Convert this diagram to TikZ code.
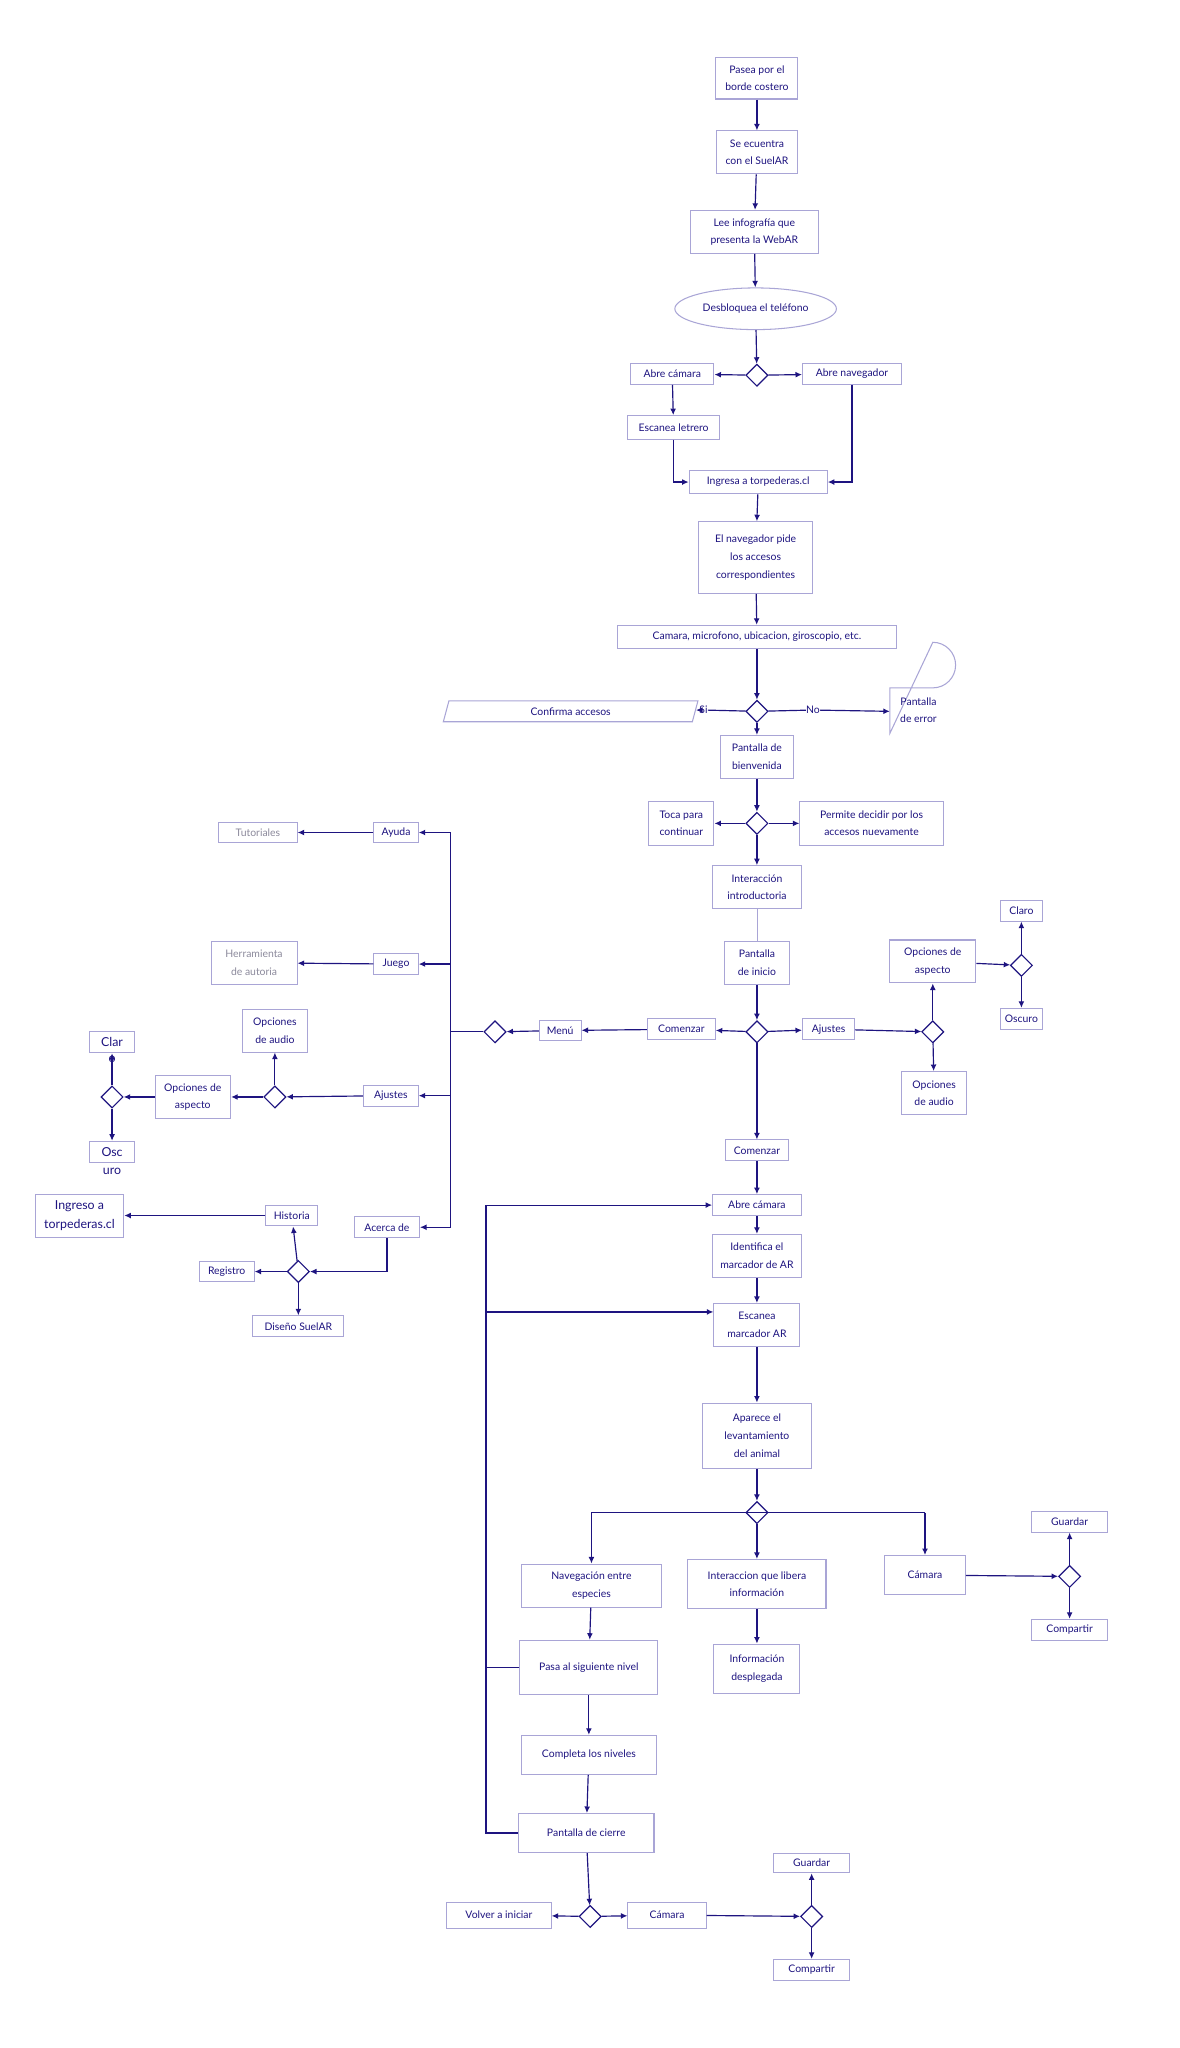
\documentclass[tikz,border=0pt]{standalone}
\usepackage{fontspec}
\setmainfont{Lato}
\usetikzlibrary{shapes.geometric,arrows.meta}
\definecolor{ink}{HTML}{1E1480}
\definecolor{edge}{HTML}{A9A5D6}
\definecolor{grayt}{HTML}{8C8A9C}
\begin{document}
\begin{tikzpicture}[x=1pt,y=-1pt,
  every node/.style={font=\fontsize{8}{13.5}\selectfont, text=ink, align=center, inner sep=0pt},
  box/.style={draw=edge, line width=0.8pt, fill=white, minimum height=16pt},
  gbox/.style={box, text=grayt},
  dia/.style={draw=ink, line width=0.9pt, diamond, fill=white, minimum width=17pt, minimum height=17pt},
  ar/.style={draw=ink, line width=0.9pt, -{Latex[length=5pt,width=4.5pt]}},
  ln/.style={draw=ink, line width=0.9pt}]
\useasboundingbox (0,0) rectangle (905,1572);
\fill[white] (0,0) rectangle (905,1572);
% main chain
\node[box,minimum width=63,minimum height=32] (p1) at (581,60) {Pasea por el\\borde costero};
\node[box,minimum width=62,minimum height=33] (p2) at (581,117) {Se ecuentra\\con el SuelAR};
\node[box,minimum width=98,minimum height=33] (p3) at (579,178) {Lee infografía que\\presenta la WebAR};
\node[draw=edge,line width=0.8pt,ellipse,minimum width=124,minimum height=32] (p4) at (580,237) {Desbloquea el teléfono};
\node[dia] (d1) at (581,288) {};
\node[box,minimum width=64] (ac) at (516,287) {Abre cámara};
\node[box,minimum width=76] (an) at (654,287) {Abre navegador};
\node[box,minimum width=70,minimum height=18] (el) at (517,328) {Escanea letrero};
\node[box,minimum width=106,minimum height=18] (it) at (582,370) {Ingresa a torpederas.cl};
\node[box,minimum width=88,minimum height=55] (np) at (580,428) {El navegador pide\\los accesos\\correspondientes};
\node[box,minimum width=214,minimum height=18] (cm) at (581,489) {Camara, microfono, ubicacion, giroscopio, etc.};
\node[dia] (d2) at (581,546) {};
\node (si) at (540,545) {Si};
\node (no) at (624,545) {No};
\node[trapezium,trapezium left angle=75,trapezium right angle=105,draw=edge,line width=0.8pt,minimum height=16,minimum width=84,inner xsep=4pt] (ca) at (438,546) {Confirma accesos};
\draw[edge,line width=0.8pt,fill=white] (683,528) -- (716,528) arc[start angle=90,end angle=-90,radius=17.5] -- (683,563) -- cycle;
\node (pe) at (705,545) {Pantalla\\de error};
\coordinate (pel) at (683,546);
\node[box,minimum width=56,minimum height=33] (pb) at (581,581) {Pantalla de\\bienvenida};
\node[dia] (d3) at (581,632) {};
\node[box,minimum width=50,minimum height=34] (tc) at (523,632) {Toca para\\continuar};
\node[box,minimum width=110,minimum height=34] (pd) at (669,632) {Permite decidir por los\\accesos nuevamente};
\node[box,minimum width=68,minimum height=33] (ii) at (581,681) {Interacción\\introductoria};
\node[box,minimum width=50,minimum height=33] (pi) at (581,739) {Pantalla\\de inicio};
\node[dia] (d4) at (581,792) {};
\node[box,minimum width=52] (co) at (523,790) {Comenzar};
\node[box,minimum width=40] (aj) at (636,790) {Ajustes};
\node[box,minimum width=32] (me) at (430,791) {Menú};
\node[dia] (d5) at (380,792) {};
% left menu
\node[box,minimum width=34] (ay) at (304,639) {Ayuda};
\node[gbox,minimum width=60] (tu) at (198,639) {Tutoriales};
\node[box,minimum width=34] (ju) at (304,740) {Juego};
\node[gbox,minimum width=66,minimum height=33] (he) at (195,739) {Herramienta\\de autoria};
\node[box,minimum width=42] (ajl) at (300,841) {Ajustes};
\node[dia] (d6) at (211,842) {};
\node[box,minimum width=50,minimum height=33] (oal) at (211,791) {Opciones\\de audio};
\node[box,minimum width=58,minimum height=33] (oasl) at (148,842) {Opciones de\\aspecto};
\node[dia] (d7) at (86,842) {};
\node[box,minimum width=34,font=\fontsize{9.5}{13}\selectfont] (clar) at (86,800) {Clar};
\node[font=\fontsize{9.5}{13}\selectfont] at (86,813) {o};
\node[box,minimum width=34,font=\fontsize{9.5}{13}\selectfont] (osc) at (86,884) {Osc};
\node[font=\fontsize{9.5}{13}\selectfont] at (86,899) {uro};
\node[box,minimum width=50] (acd) at (297,942) {Acerca de};
\node[dia] (d8) at (229,976) {};
\node[box,minimum width=40] (hi) at (224,933) {Historia};
\node[box,minimum width=68,minimum height=33,font=\fontsize{9.5}{15}\selectfont] (ing) at (61,933) {Ingreso a\\torpederas.cl};
\node[box,minimum width=42] (re) at (174,976) {Registro};
\node[box,minimum width=70] (ds) at (229,1018) {Diseño SuelAR};
% right settings
\node[dia] (d9) at (716,792) {};
\node[box,minimum width=66,minimum height=33] (oar) at (716,738) {Opciones de\\aspecto};
\node[box,minimum width=50,minimum height=33] (oaur) at (717,839) {Opciones\\de audio};
\node[dia] (d10) at (784,741) {};
\node[box,minimum width=32] (clr) at (784,699) {Claro};
\node[box,minimum width=32] (osr) at (784,782) {Oscuro};
% lower chain
\node[box,minimum width=48] (co2) at (581,883) {Comenzar};
\node[box,minimum width=68] (ac2) at (581,925) {Abre cámara};
\node[box,minimum width=68,minimum height=33] (id) at (581,964) {Identifica el\\marcador de AR};
\node[box,minimum width=66,minimum height=33] (es) at (581,1017) {Escanea\\marcador AR};
\node[box,minimum width=84,minimum height=50] (apl) at (581,1102) {Aparece el\\levantamiento\\del animal};
\node[dia] (d11) at (581,1161) {};
\node[box,minimum width=108,minimum height=33] (nav) at (454,1217) {Navegación entre\\especies};
\node[box,minimum width=106,minimum height=38] (inl) at (581,1216) {Interaccion que libera\\información};
\node[box,minimum width=62,minimum height=30] (cam) at (710,1209) {Cámara};
\node[dia] (d12) at (821,1210) {};
\node[box,minimum width=58] (gu1) at (821,1168) {Guardar};
\node[box,minimum width=58] (cp1) at (821,1251) {Compartir};
\node[box,minimum width=66,minimum height=38] (ind) at (581,1281) {Información\\desplegada};
\node[box,minimum width=106,minimum height=42] (pas) at (452,1280) {Pasa al siguiente nivel};
\node[box,minimum width=104,minimum height=30] (cl) at (452,1347) {Completa los niveles};
\node[box,minimum width=104,minimum height=30] (pc) at (450,1407) {Pantalla de cierre};
\node[dia] (d13) at (453,1471) {};
\node[box,minimum width=80,minimum height=20] (vi) at (383,1470) {Volver a iniciar};
\node[box,minimum width=60,minimum height=20] (cam2) at (512,1470) {Cámara};
\node[dia] (d14) at (623,1471) {};
\node[box,minimum width=58,minimum height=15] (gu2) at (623,1430) {Guardar};
\node[box,minimum width=58] (cp2) at (623,1512) {Compartir};
% connectors main
\draw[ar] (p1) -- (p2);
\draw[ar] (p2) -- (p3);
\draw[ar] (p3) -- (p4);
\draw[ar] (p4) -- (d1);
\draw[ar] (d1) -- (ac);
\draw[ar] (d1) -- (an);
\draw[ar] (ac) -- (el);
\draw[ar] (el.south) |- (it.west);
\draw[ar] (an.south) |- (it.east);
\draw[ar] (it) -- (np);
\draw[ar] (np) -- (cm);
\draw[ar] (cm) -- (d2);
\draw[ln] (d2) -- (si);
\draw[ar] (si) -- (ca);
\draw[ln] (d2) -- (no);
\draw[ar] (no) -- (pel);
\draw[ar] (d2) -- (pb);
\draw[ar] (pb) -- (d3);
\draw[ar] (d3) -- (tc);
\draw[ar] (d3) -- (pd);
\draw[ar] (d3) -- (ii);
\draw[edge,line width=0.6pt] (ii) -- (pi);
\draw[ar] (pi) -- (d4);
\draw[ar] (d4) -- (co);
\draw[ar] (co) -- (me);
\draw[ar] (me) -- (d5);
\coordinate (vx) at (346,792);
\draw[ln] (d5) -- (vx);
\draw[ln] (346,639) -- (346,942);
\draw[ar] (346,639) -- (ay);
\draw[ar] (346,740) -- (ju);
\draw[ar] (346,841) -- (ajl);
\draw[ar] (346,942) -- (acd);
\draw[ar] (ay) -- (tu);
\draw[ar] (ju) -- (he);
\draw[ar] (ajl) -- (d6);
\draw[ar] (d6) -- (oal);
\draw[ar] (d6) -- (oasl);
\draw[ar] (oasl) -- (d7);
\draw[ar] (d7) -- (clar);
\draw[ar] (d7) -- (osc);
\draw[ar] (acd.south) |- (d8);
\draw[ar] (d8) -- (hi);
\draw[ar] (d8) -- (re);
\draw[ar] (d8) -- (ds);
\draw[ar] (hi) -- (ing);
\draw[ar] (d4) -- (aj);
\draw[ar] (aj) -- (d9);
\draw[ar] (d9) -- (oar);
\draw[ar] (d9) -- (oaur);
\draw[ar] (oar) -- (d10);
\draw[ar] (d10) -- (clr);
\draw[ar] (d10) -- (osr);
\draw[ar] (d4) -- (co2);
\draw[ar] (co2) -- (ac2);
\draw[ar] (ac2) -- (id);
\draw[ar] (id) -- (es);
\draw[ar] (es) -- (apl);
\draw[ar] (apl) -- (d11);
\draw[ln] (454,1161) -- (710,1161);
\draw[ar] (454,1161) -- (nav);
\draw[ar] (d11) -- (inl);
\draw[ar] (710,1161) -- (cam);
\draw[ar] (cam) -- (d12);
\draw[ar] (d12) -- (gu1);
\draw[ar] (d12) -- (cp1);
\draw[ar] (inl) -- (ind);
\draw[ar] (nav) -- (pas);
\draw[ar] (pas) -- (cl);
\draw[ar] (cl) -- (pc);
\draw[ln] (pas.west) -- (373,1280);
\draw[ln] (pc.west) -- (373,1407) -- (373,925);
\draw[ar] (373,925) -- (ac2.west);
\draw[ar] (373,1007) -- (es.west |- 0,1007);
\draw[ar] (pc) -- (d13);
\draw[ar] (d13) -- (vi);
\draw[ar] (d13) -- (cam2);
\draw[ar] (cam2) -- (d14);
\draw[ar] (d14) -- (gu2);
\draw[ar] (d14) -- (cp2);
\end{tikzpicture}
\end{document}
